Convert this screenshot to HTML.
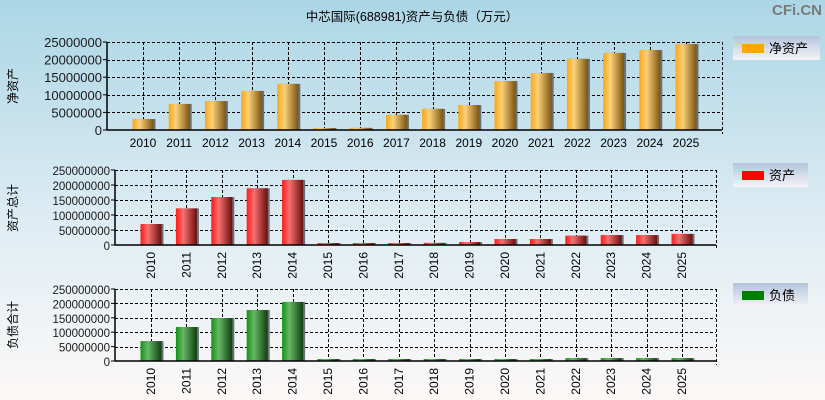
<!DOCTYPE html>
<html><head><meta charset="utf-8"><style>
body{margin:0;}
svg{display:block;font-family:"Liberation Sans","Noto Sans CJK SC",sans-serif;}
</style></head><body>
<svg id="c" width="825" height="400" xmlns="http://www.w3.org/2000/svg">
<defs>
<linearGradient id="bg" x1="0" y1="0" x2="0" y2="1"><stop offset="0" stop-color="#acd6e6"/><stop offset="0.6" stop-color="#e2eef4"/><stop offset="1" stop-color="#fcf8f7"/></linearGradient>
<linearGradient id="gO" x1="0" x2="1"><stop offset="0" stop-color="#f8a818"/><stop offset="0.35" stop-color="#fcd078"/><stop offset="1" stop-color="#7a5510"/></linearGradient>
<linearGradient id="gR" x1="0" x2="1"><stop offset="0" stop-color="#ff1a1a"/><stop offset="0.35" stop-color="#f87070"/><stop offset="1" stop-color="#6a0e0e"/></linearGradient>
<linearGradient id="gG" x1="0" x2="1"><stop offset="0" stop-color="#159015"/><stop offset="0.35" stop-color="#66b866"/><stop offset="1" stop-color="#0e3e0e"/></linearGradient>
<linearGradient id="lg" x1="0" y1="0" x2="0" y2="1"><stop offset="0" stop-color="#b4c4dc"/><stop offset="1" stop-color="#f6f4f8"/></linearGradient>
</defs>
<rect width="825" height="400" fill="url(#bg)"/>
<text x="412" y="21" text-anchor="middle" font-size="12.5">中芯国际(688981)资产与负债（万元）</text>
<text x="822" y="15" text-anchor="end" font-size="15" font-weight="bold" fill="#7a7a7a">CFi.CN</text>
<g id="g"></g>
</svg>
<script>
const years=["2010","2011","2012","2013","2014","2015","2016","2017","2018","2019","2020","2021","2022","2023","2024","2025"];
const netAssets=[3100000,7400000,8200000,11100000,13100000,300000,600000,4300000,6000000,7100000,13900000,16200000,20200000,21900000,22700000,24400000];
const totalAssets=[70000000,122000000,160000000,189000000,217000000,3000000,3000000,6000000,7000000,10000000,20000000,20000000,31000000,33000000,33000000,37000000];
const liabilities=[69000000,118000000,149000000,177000000,205000000,2000000,2000000,2000000,2000000,2000000,6000000,6000000,10000000,10000000,10000000,10000000];
const ticks1=[0,5000000,10000000,15000000,20000000,25000000];
const ticks2=[0,50000000,100000000,150000000,200000000,250000000];
const NS="http://www.w3.org/2000/svg";
const root=document.getElementById('g');
function mk(t,a,p){const e=document.createElementNS(NS,t);for(const k in a)e.setAttribute(k,a[k]);(p||root).appendChild(e);return e;}
function panel(cfg){
  const {L,R,T,B,c0,c1,max,ticks,vals,fill,rot,ytitle,ty,name,leg,lx,ly,lw,legText}=cfg;
  const g=mk('g',{});
  
  
  const sx=i=>c0+i*(c1-c0)/(years.length-1);
  const sy=v=>B-v/max*(B-T);
  ticks.forEach(t=>{if(t>0){const l=mk('line',{x1:L,x2:R,y1:Math.round(sy(t))+0.5,y2:Math.round(sy(t))+0.5,stroke:'#000','stroke-dasharray':'3,2'},g);}});
  years.forEach((y,i)=>{const xx=Math.round(sx(i))+0.5;const l=mk('line',{x1:xx,x2:xx,y1:T,y2:B,stroke:'#000','stroke-dasharray':'3,2'},g);});
  mk('line',{x1:R+0.5,x2:R+0.5,y1:T,y2:B+4,stroke:'#000','stroke-dasharray':'3,2'},g);
  vals.forEach((v,i)=>{const x=sx(i)-10.5;let h=Math.max(B-sy(v),2);const y=B-h;
    mk('rect',{x:x+2,y:y,width:21,height:h,fill:'#6a7078'},g);
    const r=mk('rect',{x:x,y:y,width:21,height:h,fill:fill},g);
    
    });
  mk('line',{x1:L,x2:R,y1:B,y2:B,stroke:'#000','stroke-width':1.5},g);
  mk('line',{x1:L,x2:L,y1:T,y2:B,stroke:'#000','stroke-width':1.5},g);
  ticks.forEach(t=>{mk('line',{x1:L-4,x2:L,y1:sy(t),y2:sy(t),stroke:'#000'},g);
    const tx=mk('text',{x:L-5,y:sy(t)+5,'text-anchor':'end','font-size':rot?11.5:13,fill:'#1a1a1a'},g);tx.textContent=t;
    });
  years.forEach((y,i)=>{let t;
    if(rot){t=mk('text',{x:0,y:0,transform:`translate(${sx(i)+4},${B+7}) rotate(-90)`,'text-anchor':'end','font-size':12},g);}
    else{t=mk('text',{x:sx(i),y:B+17,'text-anchor':'middle','font-size':12},g);}
    t.textContent=y;});
  const yt=mk('text',{x:0,y:0,transform:`translate(17,${ty}) rotate(-90)`,'text-anchor':'middle','font-size':12},g);
  yt.textContent=ytitle;
  const lgd=mk('g',{},g);
  
  
  mk('rect',{x:lx,y:ly,width:lw,height:24,fill:'url(#lg)'},lgd);
  mk('rect',{x:lx+9,y:ly+8,width:22,height:9,fill:leg},lgd);
  const lt=mk('text',{x:lx+36,y:ly+17,'font-size':13},lgd);lt.textContent=legText;
}
panel({L:107,R:722,T:42,B:130,c0:143,c1:686,max:25000000,ticks:ticks1,vals:netAssets,fill:'url(#gO)',rot:false,ytitle:'净资产',ty:86,name:'net',leg:'#ffa500',lx:733,ly:36,lw:87,legText:'净资产'});
panel({L:115,R:716,T:170,B:245,c0:151,c1:682,max:250000000,ticks:ticks2,vals:totalAssets,fill:'url(#gR)',rot:true,ytitle:'资产总计',ty:208,name:'assets',leg:'#ff0000',lx:733,ly:163,lw:75,legText:'资产'});
panel({L:115,R:716,T:289,B:361,c0:151,c1:682,max:250000000,ticks:ticks2,vals:liabilities,fill:'url(#gG)',rot:true,ytitle:'负债合计',ty:325,name:'liabilities',leg:'#008000',lx:733,ly:283,lw:75,legText:'负债'});
</script>
</body></html>
